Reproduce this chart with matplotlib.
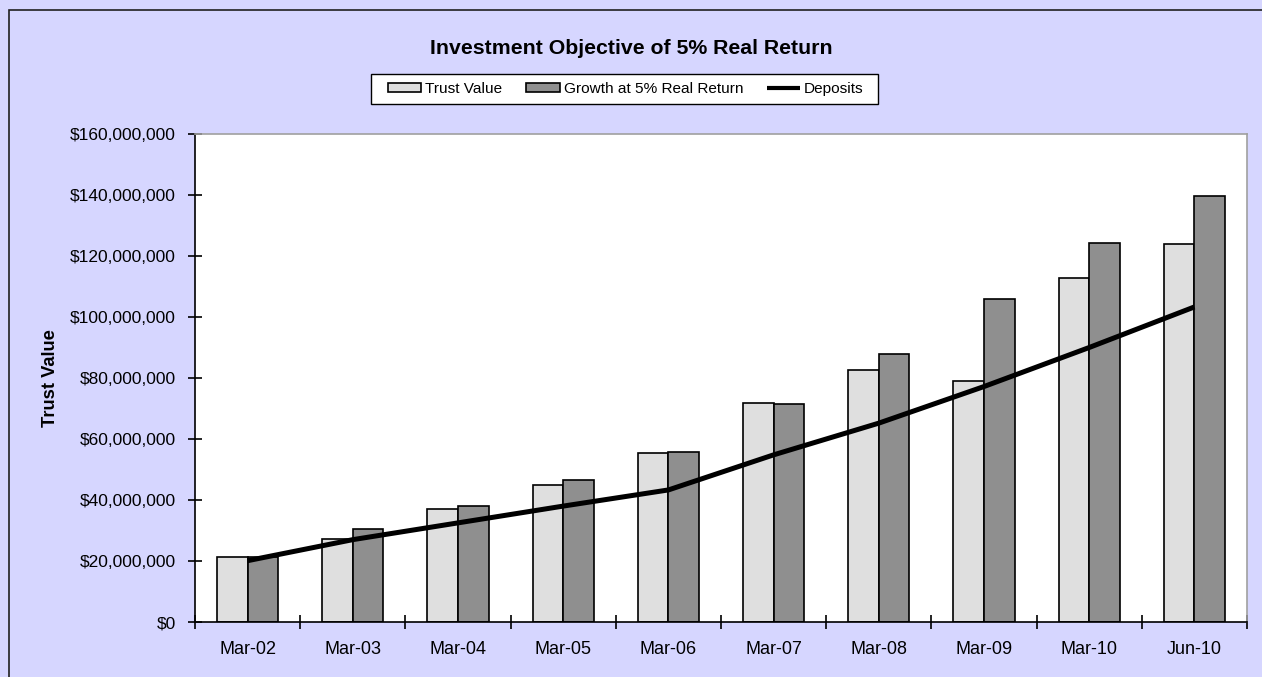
#!/usr/bin/env python3
"""Investment objective of 5% real return - grouped bars with deposits line."""

import numpy as np
import matplotlib.pyplot as plt
from matplotlib.patches import Rectangle
from matplotlib.ticker import FuncFormatter

plt.rcParams['font.family'] = ['Liberation Sans', 'DejaVu Sans']

bgcol    = '#d6d6ff'
lightcol = '#dfdfdf'
darkcol  = '#8f8f8f'
framecol = '#a0a0a0'

periods     = ['Mar-02', 'Mar-03', 'Mar-04', 'Mar-05', 'Mar-06',
               'Mar-07', 'Mar-08', 'Mar-09', 'Mar-10', 'Jun-10']
trust_value = [21.3, 27.1, 37.0, 44.9, 55.4, 71.8, 82.6, 79.0, 112.8, 124.0]   # $M
growth_5pc  = [21.3, 30.5, 38.0, 46.6, 55.7, 71.5, 87.9, 105.9, 124.3, 139.7]  # $M
deposits    = [20.1, 27.0, 32.5, 38.0, 43.3, 54.8, 65.2, 77.2, 90.0, 103.3]    # $M

x = np.arange(len(periods))
w = 0.29
W, H = 1262, 677

fig = plt.figure(figsize=(W / 100, H / 100), dpi=100)
fig.patch.set_facecolor(bgcol)
# outer chart border (only left/top visible in the crop)
fig.patches.append(Rectangle((9 / W, -0.1), 1.2, 1 - 10 / H + 0.1,
                             transform=fig.transFigure, fill=False,
                             edgecolor='#202020', lw=1.2))

ax = fig.add_axes([195 / W, 1 - 622 / H, 1052 / W, 488 / H])
ax.set_facecolor('white')

b1 = ax.bar(x - w / 2, np.array(trust_value) * 1e6, w, color=lightcol,
            edgecolor='black', lw=1.2, label='Trust Value', zorder=2)
b2 = ax.bar(x + w / 2, np.array(growth_5pc) * 1e6, w, color=darkcol,
            edgecolor='black', lw=1.2, label='Growth at 5% Real Return', zorder=2)
ln, = ax.plot(x, np.array(deposits) * 1e6, color='black', lw=3.6,
              label='Deposits', zorder=3, solid_capstyle='butt')

ax.set_xlim(-0.5, len(periods) - 0.5)
ax.set_ylim(0, 160e6)
ax.set_yticks(np.arange(0, 161e6, 20e6))
ax.yaxis.set_major_formatter(FuncFormatter(lambda v, p: f'${v:,.0f}'))
ax.set_xticks(np.arange(len(periods) + 1) - 0.5)
ax.set_xticklabels([])
ax.set_xticks(x, minor=True)
ax.set_xticklabels(periods, minor=True)
ax.tick_params(axis='x', which='minor', length=0, pad=14, labelsize=13)
ax.tick_params(axis='x', which='major', direction='inout', length=10, width=1.2)
ax.tick_params(axis='y', direction='inout', length=10, width=1.2, pad=9,
               labelsize=12.5)

for s in ['left', 'bottom']:
    ax.spines[s].set_color('black')
    ax.spines[s].set_linewidth(1.2)
for s in ['top', 'right']:
    ax.spines[s].set_color(framecol)
    ax.spines[s].set_linewidth(1.2)

ax.set_ylabel('Trust Value', fontsize=13.2, fontweight='bold')
ax.yaxis.set_label_coords(-0.129, 0.5)

fig.text(631 / W, 1 - 48 / H, 'Investment Objective of 5% Real Return',
         ha='center', va='center', fontsize=15.3, fontweight='bold')

# legend box drawn separately so the padding matches the reference
fig.patches.append(Rectangle((371 / W, 1 - 104 / H), 507 / W, 30 / H,
                             transform=fig.transFigure, facecolor='white',
                             edgecolor='black', lw=1.0, zorder=1))
leg = fig.legend(handles=[b1, b2, ln], loc='center',
                 bbox_to_anchor=(626 / W, 1 - 89 / H), ncol=3, frameon=False,
                 fontsize=11.1, handlelength=2.15, handleheight=0.5,
                 handletextpad=0.26, columnspacing=1.55, borderpad=0.2)
leg.legend_handles[2].set_linewidth(3)

plt.savefig('out.png', facecolor=bgcol, dpi=100)
plt.close()
